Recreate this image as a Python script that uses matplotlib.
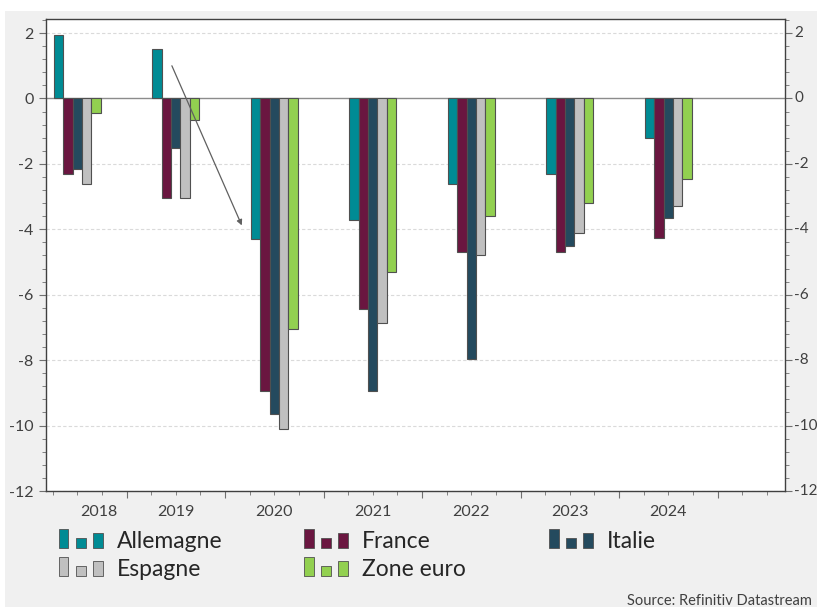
import numpy as np
import matplotlib
matplotlib.use("Agg")
import matplotlib.pyplot as plt
from matplotlib.patches import Rectangle
from matplotlib.ticker import MultipleLocator, FixedLocator

plt.rcParams['font.family'] = ['Lato', 'DejaVu Sans']

years = ["2018", "2019", "2020", "2021", "2022", "2023", "2024"]
series_names = ["Allemagne", "France", "Italie", "Espagne", "Zone euro"]
allemagne = [1.95, 1.5, -4.3, -3.7, -2.6, -2.3, -1.2]
france = [-2.3, -3.05, -8.95, -6.45, -4.7, -4.7, -4.25]
italie = [-2.15, -1.5, -9.65, -8.95, -7.95, -4.5, -3.65]
espagne = [-2.6, -3.05, -10.1, -6.85, -4.8, -4.1, -3.3]
zone_euro = [-0.45, -0.65, -7.05, -5.3, -3.6, -3.2, -2.45]
colors = ["#008b94", "#6a1640", "#244a5e", "#c0c0c0", "#92d050"]
series = [allemagne, france, italie, espagne, zone_euro]
yticks = list(range(-12, 3, 2))

W, H = 817, 607
fig = plt.figure(figsize=(W / 100, H / 100), dpi=100)
fig.patch.set_facecolor("white")
# gray panel background
fig.add_artist(Rectangle((5 / W, 0), 1, 1 - 11 / H, transform=fig.transFigure,
                         facecolor="#f0f0f0", edgecolor="none", zorder=-10))

left, right, top, bottom = 46, 785, 19, 491
ax = fig.add_axes([left / W, 1 - bottom / H, (right - left) / W, (bottom - top) / H])
ax.set_facecolor("white")

x = np.arange(len(years))
bw = 0.095
for k, (vals, c) in enumerate(zip(series, colors)):
    ax.bar(x + (k - 2) * bw, vals, width=bw, color=c, edgecolor="#505050",
           linewidth=0.8, zorder=3)

ax.set_xlim(-0.318, 7.185)
ax.set_ylim(-12, 2.43)

# grid
for yv in yticks:
    if yv == 0:
        ax.axhline(0, color="#8c8c8c", lw=1.0, zorder=2)
    else:
        ax.axhline(yv, color="#dadada", lw=0.8, ls=(0, (3, 2)), zorder=1)

for s in ax.spines.values():
    s.set_color("#404040")
    s.set_linewidth(1.0)

ax.yaxis.set_minor_locator(MultipleLocator(0.4))
ax.set_yticks(yticks)
ax.set_yticklabels([str(v) for v in yticks])
ax.tick_params(axis="y", which="both", left=True, right=True, labelleft=True,
               labelright=False, direction="out", colors="#707070",
               labelcolor="#404040", labelsize=11.5)
ax.tick_params(axis="y", which="major", length=5, pad=4)
ax.tick_params(axis="y", which="minor", length=3)
# right-hand labels (placed so they fit inside the figure)
for v in yticks:
    ax.annotate(str(v), xy=(1, v), xycoords=("axes fraction", "data"),
                xytext=(6.5, 0), textcoords="offset points", ha="left",
                va="center", fontsize=11, color="#404040", annotation_clip=False)

ax.xaxis.set_major_locator(FixedLocator(np.arange(0.5, 7.0, 1.0)))
ax.xaxis.set_minor_locator(FixedLocator(
    [v for v in np.arange(-0.25, 7.2, 0.25) if abs((v - 0.5) % 1.0) > 1e-6]))
ax.set_xticklabels([])
ax.tick_params(axis="x", which="major", length=5, direction="out", colors="#707070")
ax.tick_params(axis="x", which="minor", length=3, direction="out", colors="#707070")

label_offsets = [0.22, 0, 0, 0, 0, 0, 0]
for i, (yr, off) in enumerate(zip(years, label_offsets)):
    ax.annotate(yr, xy=(i + off, 0), xycoords=("data", "axes fraction"),
                xytext=(0, -10), textcoords="offset points", ha="center", va="top",
                fontsize=11.5, color="#404040", annotation_clip=False)

# annotation arrow
ax.annotate("", xy=(1.67, -3.88), xytext=(0.96, 1.0),
            arrowprops=dict(arrowstyle="-|>", color="#606060", lw=0.9,
                            mutation_scale=8, shrinkA=0, shrinkB=0), zorder=4)

# custom legend
def px_rect(x0, y0, w, h, color):
    fig.add_artist(Rectangle((x0 / W, 1 - y0 / H), w / W, h / H,
                             transform=fig.transFigure, facecolor=color,
                             edgecolor="#505050", linewidth=0.6))

legend_pos = [(59, 548), (304, 548), (549, 548), (59, 576), (304, 576)]
for name, c, (lx, ly) in zip(series_names, colors, legend_pos):
    px_rect(lx, ly, 9.5, 19, c)
    px_rect(lx + 17, ly, 9.5, 10.5, c)
    px_rect(lx + 34, ly, 9.5, 15, c)
    fig.text((lx + 58) / W, 1 - (ly - 7) / H, name, fontsize=16.5,
             color="#262626", ha="left", va="center")

fig.text(812 / W, 1 - 594 / H, "Source: Refinitiv Datastream", fontsize=10.5,
         color="#404040", ha="right", va="top")

fig.savefig("out.png", dpi=100)
